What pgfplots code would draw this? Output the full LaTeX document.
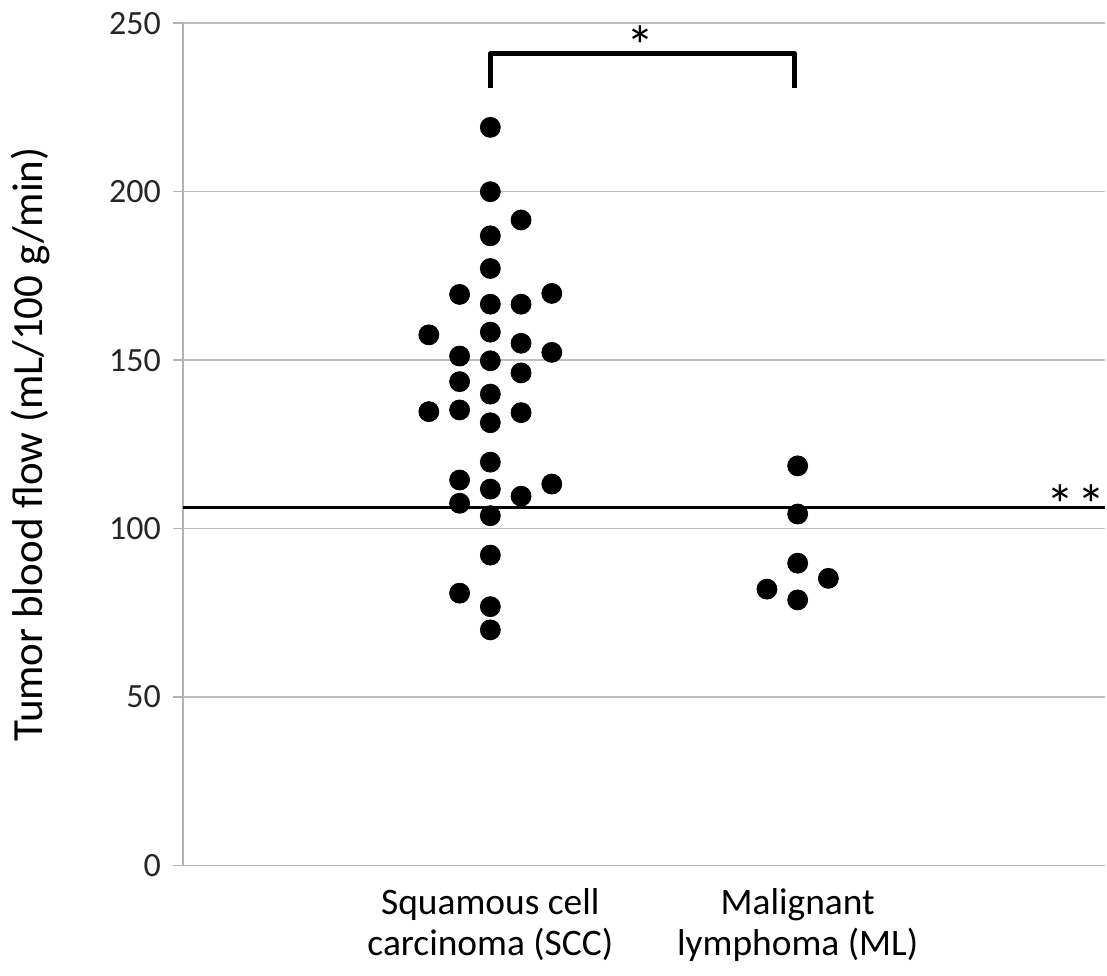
\documentclass[border=0pt]{standalone}
\usepackage{fontspec}
\setmainfont{Carlito}
\usepackage{pgfplots}
\pgfplotsset{compat=1.18}
\begin{document}
\begin{tikzpicture}
\useasboundingbox (-91.5pt,-54.85pt) rectangle (462pt,432.65pt);
\begin{axis}[
  at={(0,0)}, anchor=south west,
  width=461pt, height=421pt, scale only axis,
  xmin=0, xmax=3, ymin=0, ymax=250,
  axis x line*=bottom, axis y line*=left,
  axis line style={-, draw=gray!60, line width=0.8pt},
  ytick={0,50,...,250},
  ymajorgrids,
  major grid style={draw=gray!50, line width=0.8pt},
  xtick={1,2},
  xticklabels={{Squamous cell\\carcinoma (SCC)},{Malignant\\lymphoma (ML)}},
  xticklabel style={align=center, font=\fontsize{18.7}{20.5}\selectfont, text=black, yshift=-3pt},
  x tick style={draw=none},
  y tick style={draw=gray!60, line width=0.8pt},
  tick align=outside, major tick length=5pt,
  yticklabel style={font=\fontsize{17}{20}\selectfont, text=black!85, xshift=-2.5pt},
  /pgf/number format/assume math mode=true,
  ylabel={Tumor blood flow (mL/100 g/min)},
  ylabel style={font=\fontsize{21.5}{24}\selectfont, at={(axis description cs:-0.165,0.5)}, anchor=center},
  clip=false,
]
\addplot[only marks, mark=*, mark size=5pt, black] table {
x y
1.0 219.1
1.0 200.0
1.1 191.6
1.0 186.9
1.0 177.2
0.9 169.5
1.2 169.8
1.0 166.6
1.1 166.6
0.8 157.5
1.0 158.3
1.1 155.0
1.2 152.3
0.9 151.2
1.0 149.8
1.1 146.2
0.9 143.6
1.0 139.9
0.8 134.7
0.9 135.2
1.1 134.4
1.0 131.4
1.0 119.7
0.9 114.4
1.2 113.2
1.0 111.7
1.1 109.6
0.9 107.5
1.0 103.8
1.0 92.1
0.9 80.8
1.0 76.8
1.0 69.9
};
\addplot[only marks, mark=*, mark size=5pt, black] table {
x y
2.0 118.6
2.0 104.3
2.0 89.7
1.9 82.0
2.1 85.2
2.0 78.8
};
\addplot[black, line width=1.3pt] coordinates {(0,106.2) (3,106.2)};
\addplot[black, line width=2.5pt, line join=round] coordinates {(1,230.8) (1,241.1) (1.99,241.1) (1.99,230.8)};
\node[font=\fontsize{28}{30}\selectfont] at (axis cs:1.49,243.5) {*};
\node[font=\fontsize{28}{30}\selectfont] at (axis cs:2.905,107) {*\hspace{1.5pt}*};
\end{axis}
\end{tikzpicture}
\end{document}
